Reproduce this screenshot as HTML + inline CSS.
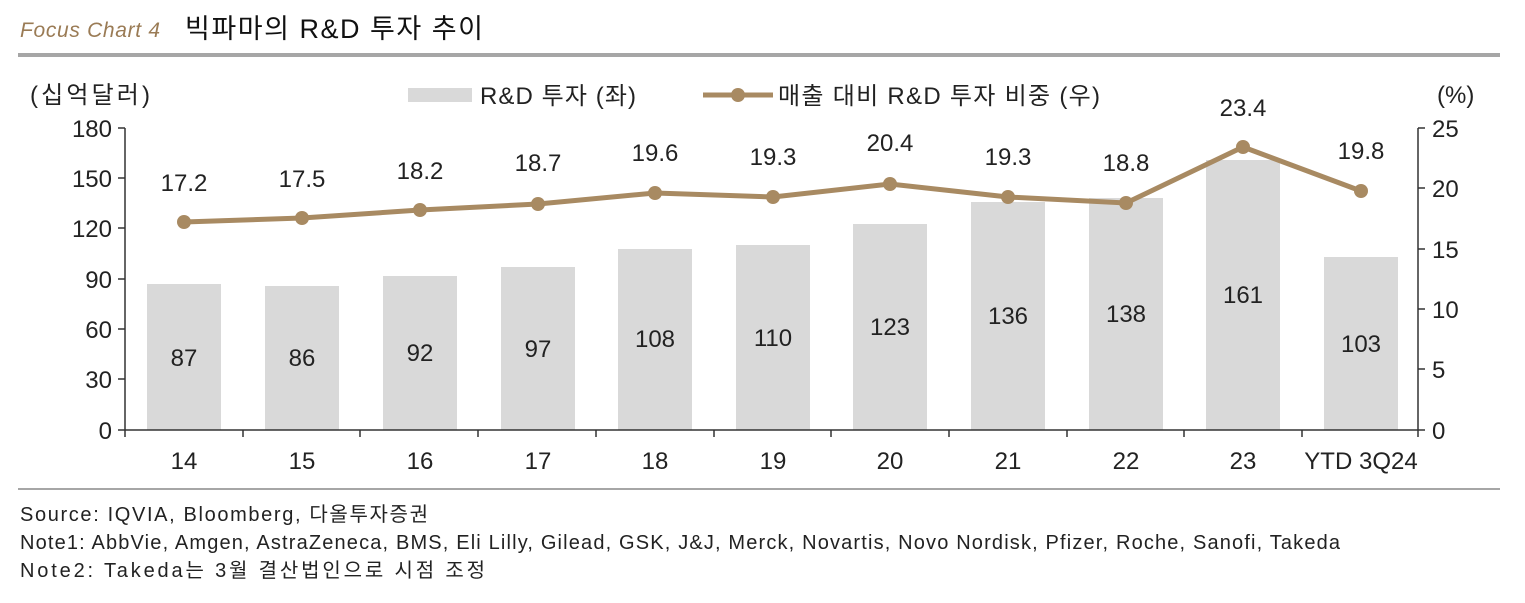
<!DOCTYPE html>
<html><head><meta charset="utf-8"><style>
body{margin:0;width:1525px;height:598px;background:#fff;overflow:hidden}
svg text{font-family:"Liberation Sans","Noto Sans CJK KR",sans-serif;fill:#222}
</style></head><body>
<svg width="1525" height="598" xmlns="http://www.w3.org/2000/svg">
<text x="20" y="37" font-size="21" font-style="italic" textLength="140" style="fill:#9a7b55">Focus Chart 4</text>
<text x="185" y="38" font-size="27" textLength="298" style="fill:#111">빅파마의 R&amp;D 투자 추이</text>
<rect x="18" y="53" width="1482" height="4" fill="#a6a6a6"/>
<rect x="18" y="488" width="1482" height="2" fill="#a6a6a6"/>
<g font-size="24">
<text x="30" y="103" textLength="120">(십억달러)</text>
<text x="1437" y="103">(%)</text>
<rect x="408" y="88" width="64" height="14" fill="#d9d9d9"/>
<text x="480" y="104" textLength="156">R&amp;D 투자 (좌)</text>
<line x1="703" y1="95" x2="773" y2="95" stroke="#a88a62" stroke-width="5"/>
<circle cx="738" cy="95" r="7" fill="#a88a62"/>
<text x="778" y="104" textLength="322">매출 대비 R&amp;D 투자 비중 (우)</text>
</g>
<g fill="#d9d9d9">
<rect x="147" y="284" width="74" height="146"/>
<rect x="265" y="286" width="74" height="144"/>
<rect x="383" y="276" width="74" height="154"/>
<rect x="501" y="267" width="74" height="163"/>
<rect x="618" y="249" width="74" height="181"/>
<rect x="736" y="245" width="74" height="185"/>
<rect x="853" y="224" width="74" height="206"/>
<rect x="971" y="202" width="74" height="228"/>
<rect x="1089" y="198" width="74" height="232"/>
<rect x="1206" y="160" width="74" height="270"/>
<rect x="1324" y="257" width="74" height="173"/>
</g>
<g font-size="24" text-anchor="middle" style="fill:#333">
<text x="184" y="366">87</text><text x="302" y="366">86</text><text x="420" y="361">92</text>
<text x="538" y="357">97</text><text x="655" y="347">108</text><text x="773" y="346">110</text>
<text x="890" y="335">123</text><text x="1008" y="324">136</text><text x="1126" y="322">138</text>
<text x="1243" y="303">161</text><text x="1361" y="352">103</text>
</g>
<g stroke="#333" stroke-width="1.5">
<line x1="125" y1="128" x2="125" y2="430"/>
<line x1="1418" y1="128" x2="1418" y2="430"/>
<line x1="125" y1="430" x2="1418" y2="430"/>
<path d="M118 128H125M118 178H125M118 228H125M118 279H125M118 329H125M118 379H125M118 430H125"/>
<path d="M1418 128H1425M1418 188H1425M1418 249H1425M1418 309H1425M1418 369H1425M1418 430H1425"/>
<path d="M125 430V437M243 430V437M360 430V437M478 430V437M596 430V437M714 430V437M831 430V437M949 430V437M1067 430V437M1184 430V437M1302 430V437M1418 430V437"/>
</g>
<g font-size="24" text-anchor="end">
<text x="112" y="137">180</text><text x="112" y="187">150</text><text x="112" y="237">120</text>
<text x="112" y="288">90</text><text x="112" y="338">60</text><text x="112" y="388">30</text><text x="112" y="439">0</text>
</g>
<g font-size="24">
<text x="1432" y="137">25</text><text x="1432" y="197">20</text><text x="1432" y="258">15</text>
<text x="1432" y="318">10</text><text x="1432" y="378">5</text><text x="1432" y="439">0</text>
</g>
<g font-size="24" text-anchor="middle">
<text x="184" y="469">14</text><text x="302" y="469">15</text><text x="420" y="469">16</text>
<text x="538" y="469">17</text><text x="655" y="469">18</text><text x="773" y="469">19</text>
<text x="890" y="469">20</text><text x="1008" y="469">21</text><text x="1126" y="469">22</text>
<text x="1243" y="469">23</text><text x="1361" y="469">YTD 3Q24</text>
</g>
<polyline fill="none" stroke="#a88a62" stroke-width="5" points="184,222 302,218 420,210 538,204 655,193 773,197 890,184 1008,197 1126,203 1243,147 1361,191"/>
<g fill="#a88a62">
<circle cx="184" cy="222" r="7"/><circle cx="302" cy="218" r="7"/><circle cx="420" cy="210" r="7"/>
<circle cx="538" cy="204" r="7"/><circle cx="655" cy="193" r="7"/><circle cx="773" cy="197" r="7"/>
<circle cx="890" cy="184" r="7"/><circle cx="1008" cy="197" r="7"/><circle cx="1126" cy="203" r="7"/>
<circle cx="1243" cy="147" r="7"/><circle cx="1361" cy="191" r="7"/>
</g>
<g font-size="24" text-anchor="middle">
<text x="184" y="191">17.2</text><text x="302" y="187">17.5</text><text x="420" y="179">18.2</text>
<text x="538" y="171">18.7</text><text x="655" y="161">19.6</text><text x="773" y="165">19.3</text>
<text x="890" y="151">20.4</text><text x="1008" y="165">19.3</text><text x="1126" y="171">18.8</text>
<text x="1243" y="116">23.4</text><text x="1361" y="159">19.8</text>
</g>
<g font-size="20" style="fill:#333">
<text x="20" y="521" textLength="408">Source: IQVIA, Bloomberg,  다올투자증권</text>
<text x="20" y="549" textLength="1320">Note1: AbbVie, Amgen, AstraZeneca, BMS, Eli Lilly, Gilead, GSK, J&amp;J, Merck, Novartis, Novo Nordisk, Pfizer, Roche, Sanofi, Takeda</text>
<text x="20" y="577" textLength="465">Note2: Takeda는  3월  결산법인으로  시점  조정</text>
</g>
</svg>
</body></html>
